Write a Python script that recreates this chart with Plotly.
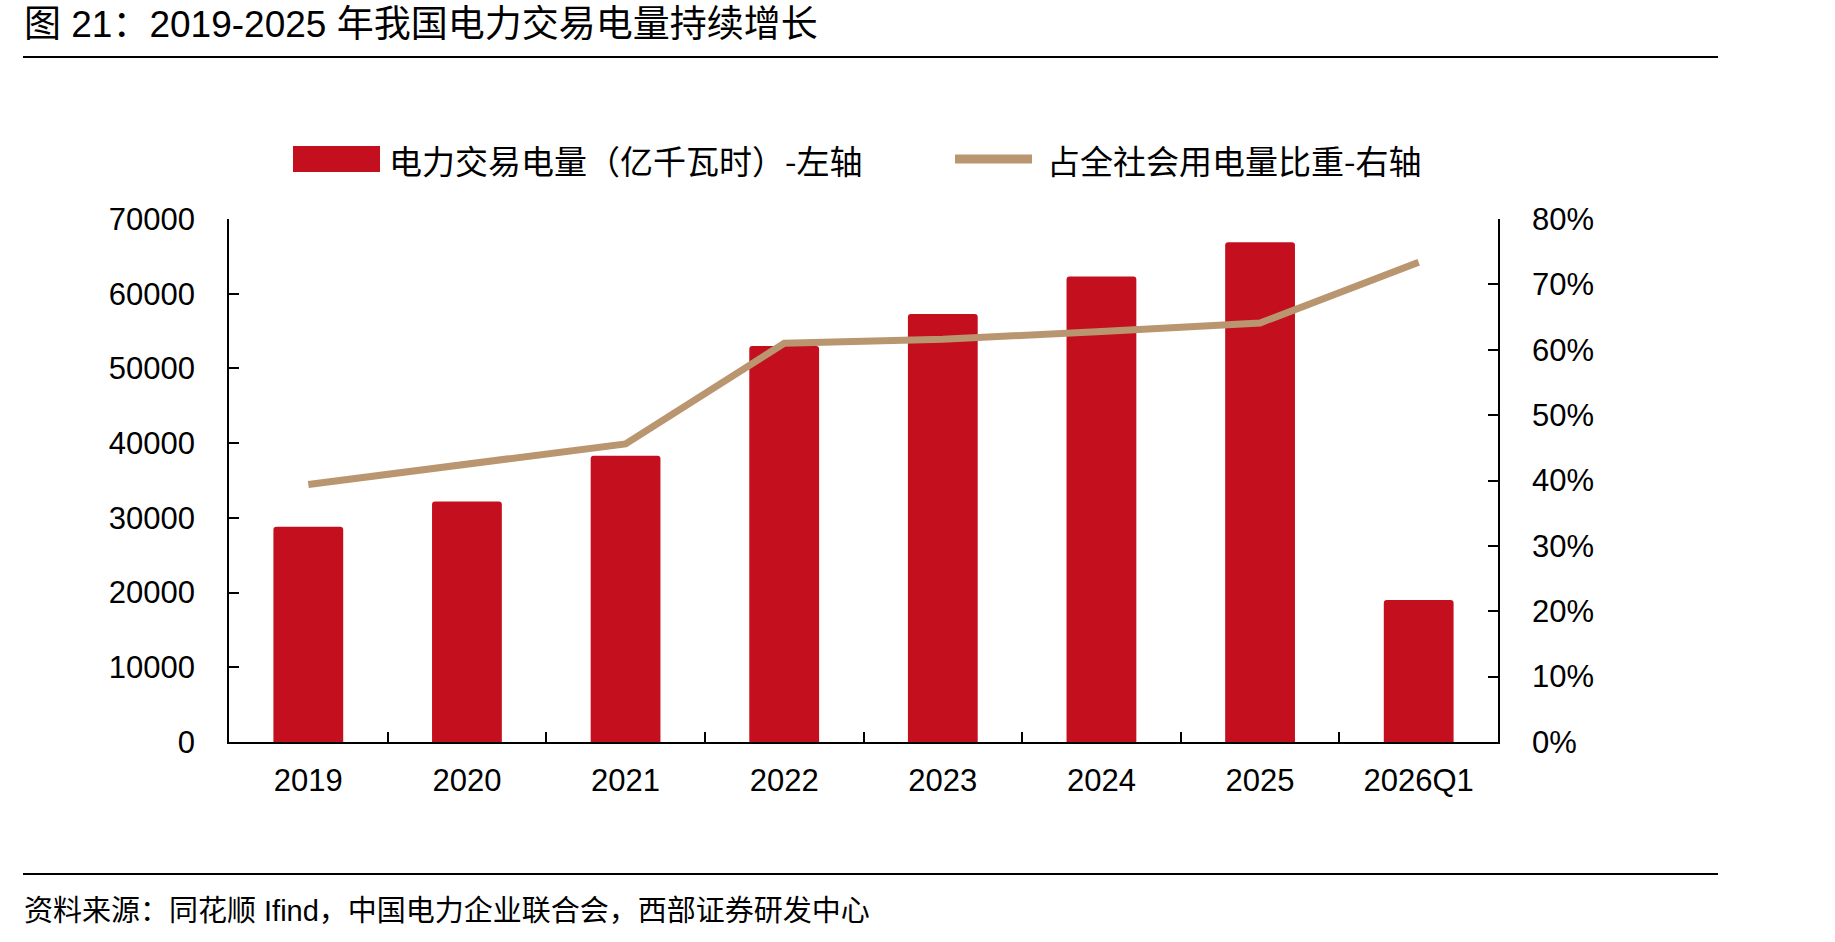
import plotly.graph_objects as go

categories = ["2019", "2020", "2021", "2022", "2023", "2024", "2025", "2026Q1"]
trade_volume = [28800, 32200, 38300, 53000, 57300, 62300, 66900, 19000]
share_pct = [0.394, 0.424, 0.456, 0.610, 0.616, 0.628, 0.641, 0.734]
left_ticks = [0, 10000, 20000, 30000, 40000, 50000, 60000, 70000]
right_ticks = [0, 0.1, 0.2, 0.3, 0.4, 0.5, 0.6, 0.7, 0.8]

title_text = "图 21：2019-2025 年我国电力交易电量持续增长"
bar_name = "电力交易电量（亿千瓦时）-左轴"
line_name = "占全社会用电量比重-右轴"
source_text = "资料来源：同花顺 Ifind，中国电力企业联合会，西部证券研发中心"

W, H = 1835, 942
L, R, T, B = 229, 1498, 219, 742

BAR_C = "#C4101E"
LINE_C = "#BA9670"
FONT = "Liberation Sans, Arial, Noto Sans CJK SC"
CJK = "Noto Sans CJK SC, Liberation Sans"


def px(x):
    return (x - L) / (R - L)


def py(y):
    return (B - y) / (B - T)


fig = go.Figure()
fig.add_trace(go.Bar(
    x=categories, y=trade_volume, name=bar_name,
    marker=dict(color=BAR_C, cornerradius=3, line=dict(width=0)),
    width=0.44, yaxis="y", showlegend=False,
))
fig.add_trace(go.Scatter(
    x=categories, y=share_pct, name=line_name, mode="lines",
    line=dict(color=LINE_C, width=7), yaxis="y2", showlegend=False,
))

axis_common = dict(
    showline=True, linecolor="black", linewidth=1.5,
    ticks="inside", ticklen=10, tickwidth=1.5, tickcolor="black",
    showgrid=False, zeroline=False,
    tickfont=dict(family=FONT, size=31, color="black"),
)

fig.update_layout(
    width=W, height=H,
    margin=dict(l=L, r=W - R, t=T, b=H - B, pad=0),
    paper_bgcolor="white", plot_bgcolor="white",
    showlegend=False,
    bargap=0.56,
    xaxis=dict(
        **axis_common, type="category", tickson="boundaries",
        ticklabelstandoff=10, range=[-0.5, 7.5],
    ),
    yaxis=dict(
        **axis_common, range=[0, 70000], tickvals=left_ticks,
        ticktext=[str(v) for v in left_ticks], ticklabelstandoff=26,
    ),
    yaxis2=dict(
        **axis_common, overlaying="y", side="right", range=[0, 0.8],
        tickvals=right_ticks, ticktext=[f"{round(v*100)}%" for v in right_ticks],
        ticklabelstandoff=26,
    ),
)

shapes = []
# rules
for yy in (57, 874):
    shapes.append(dict(type="line", xref="paper", yref="paper",
                       x0=px(23), x1=px(1718), y0=py(yy), y1=py(yy),
                       line=dict(color="black", width=2)))
# legend swatches
shapes.append(dict(type="rect", xref="paper", yref="paper",
                   x0=px(293), x1=px(380), y0=py(172), y1=py(146),
                   fillcolor=BAR_C, line=dict(width=0)))
shapes.append(dict(type="line", xref="paper", yref="paper",
                   x0=px(955), x1=px(1032), y0=py(159), y1=py(159),
                   line=dict(color=LINE_C, width=9)))
fig.update_layout(shapes=shapes)

annotations = [
    dict(text=title_text, x=px(22), y=py(24), xref="paper", yref="paper",
         xanchor="left", yanchor="middle", showarrow=False,
         font=dict(family=FONT, size=37, color="black")),
    dict(text=bar_name, x=px(387), y=py(160), xref="paper", yref="paper",
         xanchor="left", yanchor="middle", showarrow=False,
         font=dict(family=CJK, size=33, color="black")),
    dict(text=line_name, x=px(1045), y=py(160), xref="paper", yref="paper",
         xanchor="left", yanchor="middle", showarrow=False,
         font=dict(family=CJK, size=33, color="black")),
    dict(text=source_text, x=px(22), y=py(911), xref="paper", yref="paper",
         xanchor="left", yanchor="middle", showarrow=False,
         font=dict(family=FONT, size=29, color="black")),
]
fig.update_layout(annotations=annotations)

fig.write_html("out.html")
